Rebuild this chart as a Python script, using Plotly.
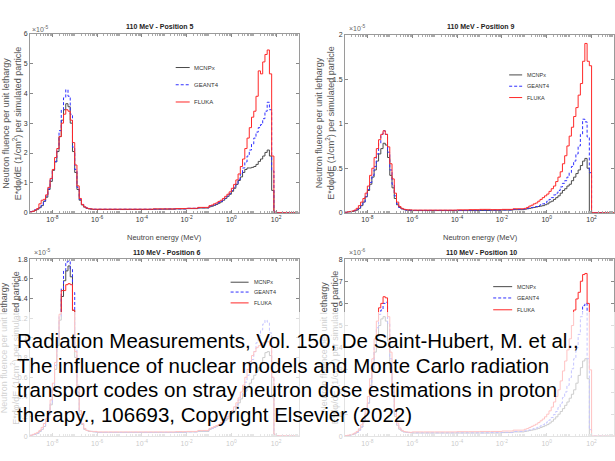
import numpy as np
import plotly.graph_objects as go

W, H = 615, 461

# ---------------- energy bins: log10(E / MeV) ----------------
log_edges_thermal = [round(-9.0 + 0.1 * i, 2) for i in range(31)]      # -9.0 ... -6.0
log_edges_flat = [round(-5.5 + 0.5 * i, 2) for i in range(10)]         # -5.5 ... -1.0
log_edges_fast = [round(-0.9 + 0.1 * i, 2) for i in range(30)]         # -0.9 ... 2.0
log_edges_tail = [3.0]
log_edges = log_edges_thermal + log_edges_flat + log_edges_fast + log_edges_tail
energy_edges = (10.0 ** np.array(log_edges)).tolist()

codes = ["MCNPx", "GEANT4", "FLUKA"]

# ---------------- 110 MeV - Position 5  (x 1e-5) ----------------
p5_mcnpx = [0.03, 0.05, 0.08, 0.12, 0.17, 0.24, 0.38, 0.52, 0.78, 1.05,
            1.42, 1.70, 2.05, 2.55, 3.10, 3.45, 3.65, 3.55, 3.00, 2.05,
            1.35, 0.78, 0.42, 0.26, 0.19, 0.15, 0.13, 0.12, 0.11, 0.11,
            0.11, 0.11, 0.11, 0.11, 0.11, 0.12, 0.12, 0.13, 0.14, 0.16,
            0.20, 0.22, 0.25, 0.28, 0.32, 0.36, 0.42, 0.48, 0.55, 0.62,
            0.72, 0.82, 0.95, 1.08, 1.20, 1.35, 1.45, 1.50, 1.50, 1.52,
            1.55, 1.62, 1.72, 1.80, 1.90, 2.02, 2.10, 1.90, 0.75, 0.00,
            0.00]
p5_geant4 = [0.04, 0.06, 0.10, 0.14, 0.19, 0.25, 0.40, 0.56, 0.80, 1.10,
             1.45, 1.72, 2.15, 2.75, 3.45, 3.85, 4.12, 3.90, 3.30, 2.20,
             1.45, 0.85, 0.45, 0.28, 0.20, 0.16, 0.14, 0.13, 0.12, 0.12,
             0.12, 0.12, 0.12, 0.12, 0.12, 0.12, 0.13, 0.13, 0.15, 0.17,
             0.22, 0.24, 0.26, 0.30, 0.34, 0.38, 0.44, 0.50, 0.56, 0.64,
             0.74, 0.85, 0.98, 1.12, 1.30, 1.50, 1.70, 1.90, 2.10, 2.30,
             2.50, 2.70, 2.85, 2.95, 3.15, 3.40, 3.70, 3.45, 1.40, 0.02,
             0.01]
p5_fluka = [0.03, 0.05, 0.09, 0.14, 0.30, 0.42, 0.45, 0.60, 0.85, 1.15,
            1.45, 1.85, 2.15, 2.55, 3.00, 3.30, 3.45, 3.40, 3.10, 2.35,
            1.60, 0.90, 0.48, 0.28, 0.20, 0.16, 0.14, 0.13, 0.12, 0.12,
            0.12, 0.12, 0.12, 0.12, 0.12, 0.13, 0.13, 0.14, 0.15, 0.18,
            0.24, 0.26, 0.30, 0.33, 0.38, 0.42, 0.48, 0.55, 0.62, 0.70,
            0.82, 0.95, 1.10, 1.30, 1.55, 1.80, 2.15, 2.50, 2.85, 3.20,
            3.40, 3.90, 4.75, 4.65, 5.05, 5.30, 5.45, 4.65, 1.90, 0.02,
            0.01]

# ---------------- 110 MeV - Position 9  (x 1e-5) ----------------
p9_mcnpx = [0.005, 0.008, 0.01, 0.015, 0.02, 0.03, 0.05, 0.08, 0.12, 0.18,
            0.25, 0.32, 0.40, 0.48, 0.58, 0.66, 0.72, 0.78, 0.76, 0.62,
            0.42, 0.28, 0.16, 0.09, 0.06, 0.045, 0.035, 0.03, 0.028, 0.027,
            0.025, 0.025, 0.025, 0.025, 0.025, 0.025, 0.026, 0.028, 0.03, 0.035,
            0.04, 0.045, 0.05, 0.055, 0.06, 0.065, 0.07, 0.075, 0.08, 0.09,
            0.10, 0.12, 0.13, 0.15, 0.17, 0.19, 0.22, 0.25, 0.27, 0.30,
            0.32, 0.36, 0.40, 0.44, 0.48, 0.53, 0.58, 0.61, 0.50, 0.00,
            0.00]
p9_geant4 = [0.005, 0.008, 0.012, 0.018, 0.025, 0.04, 0.06, 0.09, 0.12, 0.18,
             0.26, 0.34, 0.42, 0.52, 0.66, 0.78, 0.88, 0.92, 0.88, 0.68,
             0.48, 0.32, 0.19, 0.10, 0.06, 0.045, 0.035, 0.03, 0.03, 0.028,
             0.027, 0.027, 0.027, 0.027, 0.027, 0.028, 0.03, 0.03, 0.032, 0.038,
             0.045, 0.05, 0.055, 0.06, 0.065, 0.07, 0.08, 0.09, 0.10, 0.11,
             0.13, 0.15, 0.17, 0.20, 0.22, 0.25, 0.29, 0.33, 0.36, 0.40,
             0.45, 0.52, 0.58, 0.66, 0.75, 0.88, 1.05, 1.02, 0.85, 0.45,
             0.003]
p9_fluka = [0.005, 0.01, 0.015, 0.02, 0.03, 0.05, 0.08, 0.12, 0.16, 0.22,
            0.30, 0.42, 0.50, 0.62, 0.72, 0.82, 0.88, 0.92, 0.88, 0.74,
            0.55, 0.38, 0.22, 0.12, 0.07, 0.05, 0.04, 0.035, 0.033, 0.032,
            0.03, 0.03, 0.03, 0.03, 0.033, 0.035, 0.038, 0.035, 0.038, 0.045,
            0.05, 0.06, 0.075, 0.085, 0.10, 0.11, 0.13, 0.15, 0.17, 0.19,
            0.21, 0.24, 0.27, 0.30, 0.35, 0.40, 0.46, 0.55, 0.64, 0.75,
            0.86, 0.96, 1.08, 1.18, 1.32, 1.45, 1.70, 1.90, 1.70, 1.65,
            0.003]

# ---------------- 110 MeV - Position 6  (x 1e-5) ----------------
p6_mcnpx = [0.01, 0.015, 0.02, 0.03, 0.05, 0.07, 0.10, 0.15, 0.22, 0.32,
            0.48, 0.68, 0.92, 1.18, 1.42, 1.58, 1.68, 1.73, 1.62, 1.28,
            0.80, 0.45, 0.22, 0.12, 0.07, 0.06, 0.05, 0.05, 0.045, 0.045,
            0.04, 0.04, 0.04, 0.04, 0.04, 0.04, 0.04, 0.04, 0.045, 0.05,
            0.07, 0.08, 0.09, 0.10, 0.11, 0.12, 0.14, 0.16, 0.18, 0.20,
            0.23, 0.26, 0.30, 0.34, 0.38, 0.42, 0.46, 0.50, 0.54, 0.58,
            0.62, 0.66, 0.70, 0.75, 0.80, 0.85, 0.86, 0.82, 0.40, 0.00,
            0.00]
p6_geant4 = [0.01, 0.015, 0.02, 0.03, 0.05, 0.07, 0.10, 0.15, 0.22, 0.33,
             0.50, 0.72, 0.98, 1.22, 1.50, 1.68, 1.77, 1.78, 1.70, 1.46,
             0.92, 0.52, 0.26, 0.13, 0.08, 0.06, 0.05, 0.05, 0.045, 0.045,
             0.04, 0.04, 0.04, 0.04, 0.04, 0.04, 0.04, 0.042, 0.045, 0.055,
             0.07, 0.08, 0.09, 0.10, 0.11, 0.12, 0.14, 0.16, 0.18, 0.21,
             0.24, 0.28, 0.32, 0.37, 0.42, 0.48, 0.55, 0.62, 0.70, 0.78,
             0.86, 0.95, 1.02, 1.08, 1.14, 1.18, 1.16, 1.05, 0.60, 0.02,
             0.005]
p6_fluka = [0.01, 0.02, 0.03, 0.04, 0.06, 0.09, 0.13, 0.18, 0.26, 0.37,
            0.54, 0.75, 1.00, 1.24, 1.48, 1.48, 1.54, 1.55, 1.54, 1.28,
            0.86, 0.50, 0.26, 0.13, 0.08, 0.06, 0.055, 0.05, 0.05, 0.05,
            0.045, 0.045, 0.045, 0.045, 0.045, 0.045, 0.045, 0.048, 0.05, 0.06,
            0.08, 0.09, 0.10, 0.11, 0.12, 0.14, 0.16, 0.18, 0.20, 0.23,
            0.26, 0.30, 0.34, 0.39, 0.45, 0.52, 0.60, 0.68, 0.76, 0.82,
            0.86, 0.90, 0.92, 0.94, 0.95, 0.96, 0.96, 0.92, 0.60, 0.02,
            0.005]

# ---------------- 110 MeV - Position 10  (x 1e-6) ----------------
p10_mcnpx = [0.02, 0.035, 0.05, 0.08, 0.12, 0.18, 0.28, 0.42, 0.65, 1.0,
             1.5, 2.2, 3.0, 3.8, 4.5, 5.0, 5.3, 5.4, 5.2, 4.3,
             3.0, 1.8, 0.9, 0.5, 0.32, 0.24, 0.20, 0.18, 0.17, 0.16,
             0.15, 0.15, 0.15, 0.15, 0.15, 0.15, 0.15, 0.15, 0.17, 0.20,
             0.22, 0.24, 0.26, 0.28, 0.30, 0.33, 0.36, 0.40, 0.44, 0.48,
             0.53, 0.60, 0.68, 0.78, 0.88, 1.00, 1.12, 1.25, 1.40, 1.55,
             1.72, 1.90, 2.10, 2.40, 2.75, 3.10, 3.40, 3.50, 2.60, 0.00,
             0.00]
p10_geant4 = [0.02, 0.035, 0.05, 0.08, 0.12, 0.18, 0.28, 0.42, 0.65, 1.0,
              1.5, 2.3, 3.2, 4.1, 4.9, 5.5, 5.7, 6.0, 6.05, 5.1,
              3.5, 2.0, 1.0, 0.55, 0.34, 0.25, 0.20, 0.18, 0.17, 0.16,
              0.16, 0.16, 0.16, 0.16, 0.16, 0.16, 0.16, 0.17, 0.18, 0.22,
              0.25, 0.27, 0.29, 0.32, 0.35, 0.38, 0.42, 0.47, 0.52, 0.58,
              0.65, 0.74, 0.85, 0.98, 1.12, 1.30, 1.50, 1.75, 2.00, 2.30,
              2.65, 3.05, 3.50, 4.00, 4.60, 5.40, 5.90, 6.00, 3.50, 0.30,
              0.01]
p10_fluka = [0.03, 0.05, 0.07, 0.10, 0.15, 0.22, 0.34, 0.52, 0.80, 1.2,
             1.8, 2.6, 3.5, 4.4, 5.2, 5.8, 6.0, 6.3, 6.25, 5.4,
             3.8, 2.3, 1.2, 0.6, 0.38, 0.27, 0.22, 0.20, 0.19, 0.18,
             0.20, 0.20, 0.20, 0.20, 0.21, 0.21, 0.22, 0.22, 0.24, 0.28,
             0.32, 0.35, 0.40, 0.45, 0.50, 0.55, 0.62, 0.70, 0.78, 0.88,
             1.00, 1.15, 1.32, 1.55, 1.80, 2.10, 2.50, 2.95, 3.40, 3.90,
             4.40, 5.00, 5.70, 6.20, 6.50, 7.00, 7.30, 7.35, 6.00, 3.00,
             0.01]

x_tick_vals = [1e-8, 1e-6, 1e-4, 1e-2, 1e0, 1e2]
x_tick_text = ["10<sup>-8</sup>", "10<sup>-6</sup>", "10<sup>-4</sup>",
               "10<sup>-2</sup>", "10<sup>0</sup>", "10<sup>2</sup>"]

# ---------------- styling / layout ----------------
FONT = "Arial, Liberation Sans, sans-serif"
styles = {
    "MCNPx": dict(color="#4a4a4a", width=1, dash="solid"),
    "GEANT4": dict(color="#3030ff", width=1, dash="3px,2px"),
    "FLUKA": dict(color="#ff2828", width=1, dash="solid"),
}


def px(x):
    return x / W


def py(y):
    return 1 - y / H


panels = [
    dict(title="110 MeV - Position 5", n="", xdom=(30, 299), ydom=(30, 212),
         yrange=[0, 6], dtick=1, exp="-5",
         series=[p5_mcnpx, p5_geant4, p5_fluka],
         title_xy=(160, 23), exp_xy=(30, 25), ytitle_xy=(12, 121), xtitle_xy=(164.5, 237),
         leg=dict(x0=176, x1=190, xt=192, rows=[64.5, 82, 99.5], fs=6)),
    dict(title="110 MeV - Position 9", n="2", xdom=(345.5, 615), ydom=(31, 212),
         yrange=[0, 2], dtick=0.5, exp="-5",
         series=[p9_mcnpx, p9_geant4, p9_fluka],
         title_xy=(481, 23), exp_xy=(348, 24), ytitle_xy=(326, 121), xtitle_xy=(481, 237),
         leg=dict(x0=510, x1=523, xt=526, rows=[72, 83.5, 95], fs=5.5)),
    dict(title="110 MeV - Position 6", n="3", xdom=(30, 299), ydom=(259, 439),
         yrange=[0, 1.8], dtick=0.2, exp="-5",
         series=[p6_mcnpx, p6_geant4, p6_fluka],
         title_xy=(167, 252), exp_xy=(32, 252), ytitle_xy=(10, 349), xtitle_xy=None,
         leg=dict(x0=231, x1=249, xt=252, rows=[282.5, 292.5, 303.5], fs=5.5)),
    dict(title="110 MeV - Position 10", n="4", xdom=(345.5, 615), ydom=(259, 439),
         yrange=[0, 8], dtick=1, exp="-6",
         series=[p10_mcnpx, p10_geant4, p10_fluka],
         title_xy=(482, 252), exp_xy=(348, 252), ytitle_xy=(330, 349), xtitle_xy=None,
         leg=dict(x0=494, x1=513, xt=516, rows=[287, 298.5, 310.5], fs=5.5)),
]

minor_vals = [k * 10.0 ** d for d in range(-9, 3) for k in range(1, 10)
              if not (k == 1 and d % 2 == 0)]

fig = go.Figure()
layout = dict(width=W, height=H, margin=dict(l=0, r=0, t=0, b=0),
              paper_bgcolor="white", plot_bgcolor="white", showlegend=False,
              font=dict(family=FONT, size=7, color="#333"))
annotations = []
shapes = []

for p in panels:
    n = p["n"]
    xa, ya = "x" + n, "y" + n
    for code, vals in zip(codes, p["series"]):
        assert len(vals) == len(energy_edges) - 1
        fig.add_trace(go.Scatter(
            x=energy_edges, y=vals + [vals[-1]], mode="lines", line_shape="hv",
            name=code, line=styles[code], xaxis=xa, yaxis=ya, hoverinfo="skip"))
    layout["xaxis" + n] = dict(
        domain=[px(p["xdom"][0]), px(p["xdom"][1])], anchor=ya, type="log",
        range=[-9, 3], tickmode="array", tickvals=x_tick_vals, ticktext=x_tick_text,
        ticks="inside", ticklen=3, tickcolor="#888", showline=True, linecolor="#9a9a9a",
        linewidth=1, mirror="ticks", showgrid=False, zeroline=False,
        tickfont=dict(size=7, color="#333"),
        minor=dict(ticks="inside", ticklen=2, tickcolor="#aaa", tickmode="array",
                   tickvals=minor_vals, showgrid=False))
    layout["yaxis" + n] = dict(
        domain=[py(p["ydom"][1]), py(p["ydom"][0])], anchor=xa, range=p["yrange"],
        dtick=p["dtick"], tick0=0, ticks="inside", ticklen=3, tickcolor="#888",
        showline=True, linecolor="#9a9a9a", linewidth=1, mirror="ticks",
        showgrid=False, zeroline=False, tickfont=dict(size=7, color="#333"))

    tx, ty = p["title_xy"]
    annotations.append(dict(text="<b>" + p["title"] + "</b>", x=px(tx), y=py(ty),
                            xref="paper", yref="paper", showarrow=False,
                            xanchor="center", yanchor="middle",
                            font=dict(size=7, color="#222")))
    ex, ey = p["exp_xy"]
    annotations.append(dict(text="×10<sup>" + p["exp"] + "</sup>", x=px(ex), y=py(ey),
                            xref="paper", yref="paper", showarrow=False,
                            xanchor="left", yanchor="middle",
                            font=dict(size=7, color="#666")))
    yx, yy = p["ytitle_xy"]
    annotations.append(dict(
        text="Neutron fluence per unit lethargy<br>E*dφ/dE (1/cm<sup>2</sup>) per simulated particle",
        x=px(yx), y=py(yy), xref="paper", yref="paper", showarrow=False,
        textangle=-90, xanchor="center", yanchor="middle",
        font=dict(size=9, color="#555")))
    if p["xtitle_xy"]:
        xx, xy = p["xtitle_xy"]
        annotations.append(dict(text="Neutron energy (MeV)", x=px(xx), y=py(xy),
                                xref="paper", yref="paper", showarrow=False,
                                xanchor="center", yanchor="middle",
                                font=dict(size=7.5, color="#444")))
    lg = p["leg"]
    for code, ry in zip(codes, lg["rows"]):
        st = styles[code]
        shapes.append(dict(type="line", xref="paper", yref="paper",
                           x0=px(lg["x0"]), x1=px(lg["x1"]), y0=py(ry), y1=py(ry),
                           line=dict(color=st["color"], width=1, dash=st["dash"]),
                           layer="above"))
        annotations.append(dict(text=code, x=px(lg["xt"]), y=py(ry), xref="paper",
                                yref="paper", showarrow=False, xanchor="left",
                                yanchor="middle", font=dict(size=lg["fs"], color="#333")))

# translucent white overlay across the lower part of the figure
box_top = 313
annotations.append(dict(text=" ", x=0, y=py(box_top), xref="paper", yref="paper",
                        xanchor="left", yanchor="top", showarrow=False,
                        width=W, height=H - box_top, borderpad=0, borderwidth=0,
                        bgcolor="rgba(255,255,255,0.72)"))

credit_lines = [
    "Radiation Measurements, Vol. 150, De Saint-Hubert, M. et al.,",
    "The influence of nuclear models and Monte Carlo radiation",
    "transport codes on stray neutron dose estimations in proton",
    "therapy., 106693, Copyright Elsevier (2022)",
]
for i, line in enumerate(credit_lines):
    annotations.append(dict(text=line, x=px(15), y=py(341.7 + 25 * i), xref="paper",
                            yref="paper", xanchor="left", yanchor="middle",
                            showarrow=False, font=dict(size=20.5, color="#000", family=FONT)))

layout["annotations"] = annotations
layout["shapes"] = shapes
fig.update_layout(**layout)
fig.write_html("out.html", config={"displayModeBar": False},
               post_script="document.body.style.margin='0';document.body.style.padding='0';")
